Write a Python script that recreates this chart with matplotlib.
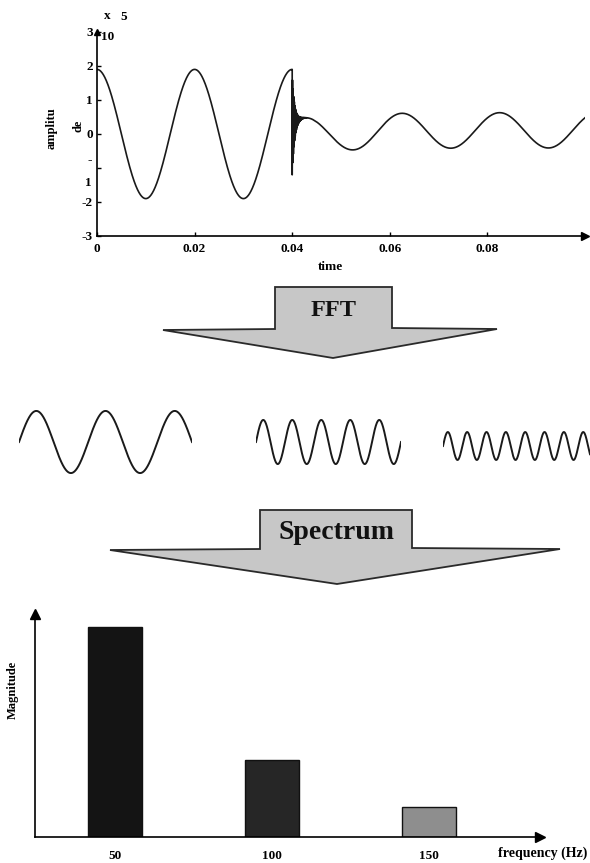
#!/usr/bin/env python3
"""
Signal -> FFT -> components -> spectrum sketch (50 Hz wave with a switching transient).
"""

import numpy as np
import matplotlib
matplotlib.use('Agg')
import matplotlib.pyplot as plt
from matplotlib.patches import Polygon

plt.rcParams.update({
    'font.family': 'serif',
    'font.serif': ['Liberation Serif', 'DejaVu Serif'],
    'font.weight': 'bold',
    'axes.linewidth': 1.2,
})

W, H = 590, 863  # figure size in pixels

# Time signal, values
base_freq = 50          # Hz
t_switch = 0.04         # s
t_end = 0.1
pre_amp = 1.9
fault_low = -1.2
post_amp = 0.52
post_peak_t = 0.0425
post_offset = 0.11
offset_dip = -0.2
offset_tau = 0.01
ring_freq = 8000
ring_tau = 0.0005

x_ticks = [0, 0.02, 0.04, 0.06, 0.08]
x_tick_labels = ['0', '0.02', '0.04', '0.06', '0.08']
y_ticks = [-3, -2, -1, 0, 1, 2, 3]
y_tick_labels = ['-3', '-2', '', '0', '1', '2', '3']

# Decomposed components: half cycles shown and relative amplitude
comp_half_cycles = [5, 10, 15.2]
comp_amps = [1.0, 0.71, 0.45]

# Spectrum
freqs = [50, 100, 150]
freq_labels = ['50', '100', '150']
mags = [1.0, 0.367, 0.143]
bar_colors = ['#141414', '#262626', '#8e8e8e']


def px_axes(fig, left, top, right, bottom):
    """Add axes from a pixel box (origin top-left)."""
    return fig.add_axes([left / W, 1 - bottom / H, (right - left) / W, (bottom - top) / H])


def fig_text(fig, x, y, s, **kw):
    fig.text(x / W, 1 - y / H, s, **kw)


def block_arrow(ax, box_l, box_r, top, shoulder, tip_l, tip_r, point_x, point_y, label, size):
    verts = [(box_l, top), (box_r, top), (box_r, shoulder), (tip_r, shoulder + 1),
             (point_x, point_y), (tip_l, shoulder + 2), (box_l, shoulder + 1)]
    ax.add_patch(Polygon(verts, closed=True, facecolor='#c7c7c7', edgecolor='#2a2a2a', lw=1.3))
    ax.text((box_l + box_r) / 2, (top + shoulder) / 2 + 3, label, ha='center', va='center',
            fontsize=size, fontweight='bold', color='#111111')


def main():
    fig = plt.figure(figsize=(W / 100, H / 100), dpi=100)

    # ---------------- time signal ----------------
    ax = px_axes(fig, 97, 32, 585, 236)
    t1 = np.linspace(0, t_switch, 800)
    y1 = pre_amp * np.cos(2 * np.pi * base_freq * t1)
    t2 = np.linspace(t_switch, t_end, 8000)
    steady = (post_offset + offset_dip * np.exp(-(t2 - t_switch) / offset_tau)
              + post_amp * np.cos(2 * np.pi * base_freq * (t2 - post_peak_t)))
    ring = (fault_low - steady[0]) * np.exp(-(t2 - t_switch) / ring_tau) \
        * np.cos(2 * np.pi * ring_freq * (t2 - t_switch))
    y2 = steady + ring
    t = np.concatenate([t1, t2])
    y = np.concatenate([y1, y2])
    ax.plot(t, y, color='#1a1a1a', lw=1.2)

    ax.set_xlim(0, t_end)
    ax.set_ylim(-3, 3)
    ax.spines['top'].set_visible(False)
    ax.spines['right'].set_visible(False)
    ax.set_xticks(x_ticks)
    ax.set_xticklabels(x_tick_labels)
    ax.set_yticks(y_ticks)
    ax.set_yticklabels(y_tick_labels)
    ax.tick_params(axis='both', direction='in', length=3, width=1, labelsize=9.5)
    ax.tick_params(axis='x', pad=5)
    ax.tick_params(axis='y', pad=3)
    ax.plot(1, 0, '>k', ms=6, transform=ax.transAxes, clip_on=False)
    ax.plot(0, 1, '^k', ms=4, transform=ax.transAxes, clip_on=False)

    fig_text(fig, 107, 16, 'x', fontsize=9.5, ha='center', va='center')
    fig_text(fig, 124, 17, '5', fontsize=9.5, ha='center', va='center')
    fig_text(fig, 108, 37, '10', fontsize=9.5, ha='center', va='center')
    fig_text(fig, 92, 160, '-', fontsize=9.5, ha='right', va='center')
    fig_text(fig, 92, 183, '1', fontsize=9.5, ha='right', va='center')
    fig_text(fig, 52, 128, 'amplitu', fontsize=9, rotation=90, ha='center', va='center')
    fig_text(fig, 78, 126, 'de', fontsize=9, rotation=90, ha='center', va='center')
    fig_text(fig, 330, 267, 'time', fontsize=9.5, ha='center', va='center')

    # ---------------- block arrows ----------------
    over = fig.add_axes([0, 0, 1, 1], zorder=-1)
    over.set_xlim(0, W)
    over.set_ylim(H, 0)
    over.axis('off')
    block_arrow(over, 275, 392, 287, 328, 163, 497, 333, 358, 'FFT', 17.5)
    block_arrow(over, 260, 412, 510, 548, 110, 560, 337, 584, 'Spectrum', 20)

    # ---------------- components ----------------
    boxes = [(19, 192, 442), (256, 401, 442), (443, 590, 446)]
    for (left, right, mid), n_half, amp in zip(boxes, comp_half_cycles, comp_amps):
        cax = px_axes(fig, left, mid - 32, right, mid + 32)
        th = np.linspace(0, n_half * np.pi, 600)
        cax.plot(th, amp * np.sin(th), color='#1a1a1a', lw=1.4)
        cax.set_xlim(0, n_half * np.pi)
        cax.set_ylim(-1.03, 1.03)
        cax.axis('off')

    # ---------------- spectrum ----------------
    bx = px_axes(fig, 35, 614, 540, 837)
    bx.bar(freqs, mags, width=17.2, color=bar_colors, edgecolor='#111111', lw=1.0)
    bx.set_xlim(24.5, 185.4)
    bx.set_ylim(0, 1.062)
    bx.spines['top'].set_visible(False)
    bx.spines['right'].set_visible(False)
    bx.set_yticks([])
    bx.set_xticks(freqs)
    bx.set_xticklabels(freq_labels)
    bx.tick_params(axis='x', length=0, pad=9, labelsize=9.5)
    bx.plot(1, 0, '>k', ms=7, transform=bx.transAxes, clip_on=False)
    bx.plot(0, 1, '^k', ms=7, transform=bx.transAxes, clip_on=False)
    fig_text(fig, 13, 690, 'Magnitude', fontsize=9, rotation=90, ha='center', va='center')
    fig_text(fig, 587, 853, 'frequency (Hz)', fontsize=10, ha='right', va='center')

    fig.savefig('out.png', dpi=100)
    plt.close(fig)


if __name__ == "__main__":
    main()
